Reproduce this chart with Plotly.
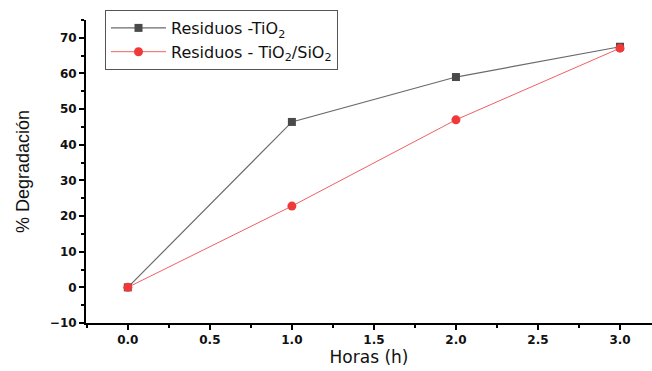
import plotly.graph_objects as go

horas = [0.0, 1.0, 2.0, 3.0]
tio2 = [0.0, 46.4, 59.0, 67.5]
tio2_sio2 = [0.0, 22.8, 47.0, 67.1]
x_ticks = [0, 0.5, 1, 1.5, 2, 2.5, 3]
x_tick_labels = ["0.0", "0.5", "1.0", "1.5", "2.0", "2.5", "3.0"]
y_ticks = [-10, 0, 10, 20, 30, 40, 50, 60, 70]

fig = go.Figure()
fig.add_trace(go.Scatter(x=horas, y=tio2, mode="lines+markers",
                         name="Residuos -TiO<sub>2</sub>",
                         line=dict(color="#6a6a6a", width=1.2),
                         marker=dict(symbol="square", size=8, color="#4a4a4a")))
fig.add_trace(go.Scatter(x=horas, y=tio2_sio2, mode="lines+markers",
                         name="Residuos - TiO<sub>2</sub>/SiO<sub>2</sub>",
                         line=dict(color="#f06060", width=1),
                         marker=dict(symbol="circle", size=9, color="#f03a3a")))

axis_common = dict(showline=True, linecolor="black", linewidth=2, ticks="outside",
                   ticklen=5, tickwidth=2, tickcolor="black", showgrid=False, zeroline=False,
                   tickfont=dict(family="DejaVu Sans", size=12, color="#111", weight="bold"))
fig.update_layout(
    width=652, height=371, margin=dict(l=86, r=0, t=20, b=48),
    paper_bgcolor="white", plot_bgcolor="white",
    font=dict(family="DejaVu Sans", color="black"),
    xaxis=dict(range=[-0.255, 3.195], tickvals=x_ticks, ticktext=x_tick_labels,
               minor=dict(dtick=0.25, tick0=0, ticks="outside", ticklen=3, tickwidth=2, tickcolor="black"),
               title=dict(text="Horas (h)", font=dict(family="DejaVu Sans", size=17, color="#111"), standoff=4),
               **axis_common),
    yaxis=dict(range=[-10, 75], tickvals=y_ticks,
               minor=dict(dtick=5, tick0=0, ticks="outside", ticklen=3, tickwidth=2, tickcolor="black"),
               title=dict(text="% Degradación", font=dict(family="Liberation Sans", size=18, color="#111"), standoff=16),
               **axis_common),
    legend=dict(bgcolor="white", bordercolor="#555", borderwidth=1,
                font=dict(size=16, family="DejaVu Sans", color="#111"),
                tracegroupgap=0, itemwidth=55),
    showlegend=True,
)
pw = 652 - 86
ph = 371 - 20 - 48
fig.update_layout(legend=dict(x=(105 - 86) / pw, y=(371 - 48 - 10) / ph, xanchor="left", yanchor="top"))

fig.write_html("out.html")
